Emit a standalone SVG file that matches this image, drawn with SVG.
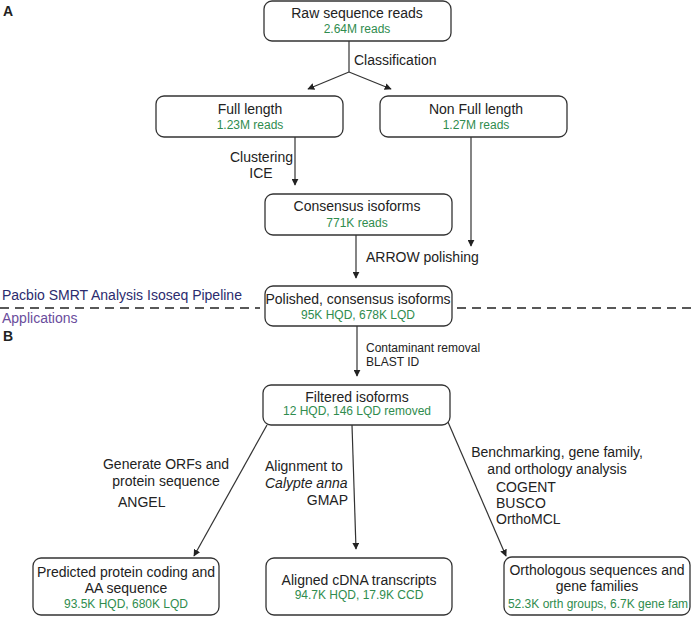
<svg xmlns="http://www.w3.org/2000/svg" width="691" height="617" viewBox="0 0 691 617">
<defs>
<marker id="ah" viewBox="0 0 10 10" refX="9" refY="5" markerWidth="7" markerHeight="7" markerUnits="userSpaceOnUse" orient="auto">
<path d="M0,0 L10,5 L0,10 z" fill="#222"/>
</marker>
<style>
.box{fill:#fff;stroke:#333;stroke-width:1.3}
.t{font-family:"Liberation Sans",Arial,sans-serif;font-size:14px;fill:#222}
.g{font-family:"Liberation Sans",Arial,sans-serif;font-size:12px;fill:#2f8c4e}
.s{font-family:"Liberation Sans",Arial,sans-serif;font-size:12px;fill:#222}
.c{text-anchor:middle}
.e{text-anchor:end}
.ln{fill:none;stroke:#333;stroke-width:1.2}
.ar{fill:none;stroke:#333;stroke-width:1.2;marker-end:url(#ah)}
.dash{fill:none;stroke:#222;stroke-width:1.3;stroke-dasharray:9,6}
.lbl{font-family:"Liberation Sans",Arial,sans-serif;font-weight:bold;font-size:14px;fill:#222}
</style>
</defs>
<rect width="691" height="617" fill="#fff"/>
<text class="lbl" x="3" y="16">A</text>
<text class="lbl" x="3" y="341">B</text>

<g id="connectors">
<path class="ln" d="M349,41 V72"/>
<path class="ar" d="M349,72 L308,89"/>
<path class="ar" d="M349,72 L391,89"/>
<path class="ar" d="M295,137 V185"/>
<path class="ar" d="M471,137 V246"/>
<path class="ar" d="M356,235 V278"/>
<path class="ar" d="M357,326 V376"/>
<path class="ar" d="M267,425 L194,556"/>
<path class="ar" d="M352,425 L356,549"/>
<path class="ar" d="M448,422 L506,556"/>
<path class="dash" d="M0,308 H260"/>
<path class="dash" d="M457,308 H691"/>
</g>

<g id="edge-labels">
<text class="t" x="354" y="65">Classification</text>
<text class="t e" x="293" y="162">Clustering</text>
<text class="t c" x="261" y="178">ICE</text>
<text class="t" x="366" y="262">ARROW polishing</text>
<text class="s" x="366" y="352">Contaminant removal</text>
<text class="s" x="366" y="366">BLAST ID</text>
<text class="t c" x="166" y="469">Generate ORFs and</text>
<text class="t c" x="166" y="486">protein sequence</text>
<text class="t" x="118" y="507">ANGEL</text>
<text class="t" x="265" y="471">Alignment to</text>
<text class="t" x="265" y="488" font-style="italic">Calypte anna</text>
<text class="t e" x="348" y="505">GMAP</text>
<text class="t c" x="557" y="457">Benchmarking, gene family,</text>
<text class="t c" x="557" y="474">and orthology analysis</text>
<text class="t" x="496" y="492">COGENT</text>
<text class="t" x="496" y="508">BUSCO</text>
<text class="t" x="496" y="524">OrthoMCL</text>
<text x="2" y="300" style="font-family:'Liberation Sans',Arial,sans-serif;font-size:14px;fill:#2b2b6e">Pacbio SMRT Analysis Isoseq Pipeline</text>
<text x="2" y="323" style="font-family:'Liberation Sans',Arial,sans-serif;font-size:14px;fill:#6a4c9c">Applications</text>
</g>

<g id="raw">
<rect class="box" x="264" y="1" width="187" height="40" rx="8"/>
<text class="t c" x="357" y="18">Raw sequence reads</text>
<text class="g c" x="357" y="33">2.64M reads</text>
</g>
<g id="full">
<rect class="box" x="156" y="96" width="187" height="41" rx="8"/>
<text class="t c" x="250" y="114">Full length</text>
<text class="g c" x="250" y="129">1.23M reads</text>
</g>
<g id="nonfull">
<rect class="box" x="380" y="96" width="187" height="41" rx="8"/>
<text class="t c" x="476" y="114">Non Full length</text>
<text class="g c" x="476" y="129">1.27M reads</text>
</g>
<g id="consensus">
<rect class="box" x="265" y="194" width="187" height="41" rx="8"/>
<text class="t c" x="357" y="211">Consensus isoforms</text>
<text class="g c" x="357" y="227">771K reads</text>
</g>
<g id="polished">
<rect class="box" x="265" y="286" width="187" height="40" rx="8"/>
<text class="t c" x="358" y="304">Polished, consensus isoforms</text>
<text class="g c" x="358" y="319">95K HQD, 678K LQD</text>
</g>
<g id="filtered">
<rect class="box" x="263" y="385" width="187" height="40" rx="8"/>
<text class="t c" x="357" y="402">Filtered isoforms</text>
<text class="g c" x="357" y="415">12 HQD, 146 LQD removed</text>
</g>
<g id="protein">
<rect class="box" x="33" y="558" width="186" height="57" rx="8"/>
<text class="t c" x="126" y="577">Predicted protein coding and</text>
<text class="t c" x="126" y="593">AA sequence</text>
<text class="g c" x="126" y="608">93.5K HQD, 680K LQD</text>
</g>
<g id="aligned">
<rect class="box" x="266" y="558" width="186" height="57" rx="8"/>
<text class="t c" x="359" y="585">Aligned cDNA transcripts</text>
<text class="g c" x="359" y="599">94.7K HQD, 17.9K CCD</text>
</g>
<g id="ortho">
<rect class="box" x="504" y="557" width="186" height="58" rx="8"/>
<text class="t c" x="597" y="575">Orthologous sequences and</text>
<text class="t c" x="597" y="591">gene families</text>
<text class="g c" x="598" y="608">52.3K orth groups, 6.7K gene fam</text>
</g>
</svg>
